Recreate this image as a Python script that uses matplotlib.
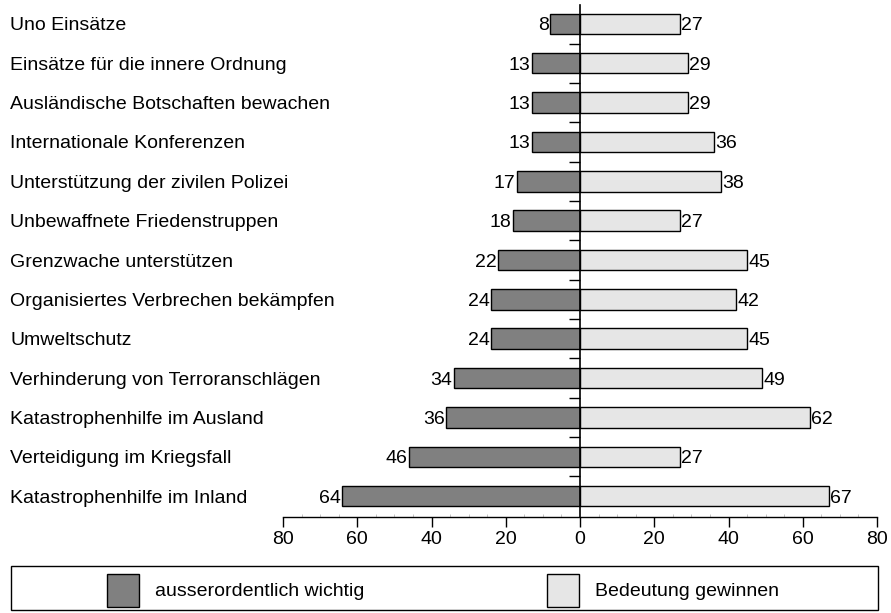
import matplotlib
matplotlib.use("Agg")
import matplotlib.pyplot as plt
from matplotlib.patches import Rectangle
from matplotlib.ticker import MultipleLocator
from matplotlib.transforms import blended_transform_factory, offset_copy

plt.rcParams['font.family'] = ['Liberation Sans', 'DejaVu Sans']

# top to bottom as in the chart
categories = [
    "Uno Einsätze",
    "Einsätze für die innere Ordnung",
    "Ausländische Botschaften bewachen",
    "Internationale Konferenzen",
    "Unterstützung der zivilen Polizei",
    "Unbewaffnete Friedenstruppen",
    "Grenzwache unterstützen",
    "Organisiertes Verbrechen bekämpfen",
    "Umweltschutz",
    "Verhinderung von Terroranschlägen",
    "Katastrophenhilfe im Ausland",
    "Verteidigung im Kriegsfall",
    "Katastrophenhilfe im Inland",
]
wichtig = [8, 13, 13, 13, 17, 18, 22, 24, 24, 34, 36, 46, 64]
gewinnen = [27, 29, 29, 36, 38, 27, 45, 42, 45, 49, 62, 27, 67]
legend_labels = ["ausserordentlich wichtig", "Bedeutung gewinnen"]
xticks = [-80, -60, -40, -20, 0, 20, 40, 60, 80]

dark = "#808080"
light = "#e6e6e6"
fs = 14

W, H = 891, 613
fig = plt.figure(figsize=(W / 100, H / 100), dpi=100)
ax_left, ax_right = 283 / W, 877 / W
ax_top, ax_bot = 1 - 5 / H, 1 - 517 / H
ax = fig.add_axes([ax_left, ax_bot, ax_right - ax_left, ax_top - ax_bot])

n = len(categories)
ypos = [n - 1 - i for i in range(n)]

ax.barh(ypos, [-v for v in wichtig], height=0.52, color=dark,
        edgecolor="black", linewidth=1, zorder=2)
ax.barh(ypos, gewinnen, height=0.52, color=light,
        edgecolor="black", linewidth=1, zorder=2)

# text baselines sit ~6px below the bar centre
txt_tr = offset_copy(ax.transData, fig=fig, y=-6.5, units="dots")
for y, v in zip(ypos, wichtig):
    ax.text(-v - 0.4, y, str(v), ha="right", va="baseline", fontsize=fs,
            transform=txt_tr)
for y, v in zip(ypos, gewinnen):
    ax.text(v + 0.3, y, str(v), ha="left", va="baseline", fontsize=fs,
            transform=txt_tr)

ax.set_xlim(-80, 80)
ax.set_ylim(-0.53, n - 0.52)

for s in ["top", "right"]:
    ax.spines[s].set_visible(False)
ax.spines["left"].set_position(("data", 0))
ax.spines["left"].set_zorder(3)
ax.spines["left"].set_linewidth(1.2)
ax.spines["bottom"].set_linewidth(1)

ax.set_yticks([k + 0.5 for k in range(n - 1)])
ax.set_yticklabels([])
ax.tick_params(axis="y", direction="out", length=8, width=1)

ax.set_xticks(xticks)
ax.set_xticklabels([str(abs(t)) for t in xticks], fontsize=fs)
ax.xaxis.set_minor_locator(MultipleLocator(5))
ax.tick_params(axis="x", which="major", direction="out", length=7, width=1, pad=3)
ax.tick_params(axis="x", which="minor", direction="in", length=2, width=0.6,
               color="#bbbbbb")

# category labels on the left
lab_tr = offset_copy(blended_transform_factory(fig.transFigure, ax.transData),
                     fig=fig, y=-6.5, units="dots")
for y, c in zip(ypos, categories):
    fig.text(10 / W, y, c, ha="left", va="baseline", fontsize=fs,
             transform=lab_tr)

# legend box
fig.patches.append(Rectangle((11 / W, 1 - 610 / H), 867 / W, 44 / H,
                             transform=fig.transFigure, facecolor="white",
                             edgecolor="black", linewidth=1))
for x0, col, lab in [(107, dark, legend_labels[0]), (547, light, legend_labels[1])]:
    fig.patches.append(Rectangle((x0 / W, 1 - 607 / H), 32 / W, 33 / H,
                                 transform=fig.transFigure, facecolor=col,
                                 edgecolor="black", linewidth=1))
    fig.text((x0 + 48) / W, 1 - 596 / H, lab, ha="left", va="baseline",
             fontsize=fs)

fig.savefig("out.png", dpi=100)
